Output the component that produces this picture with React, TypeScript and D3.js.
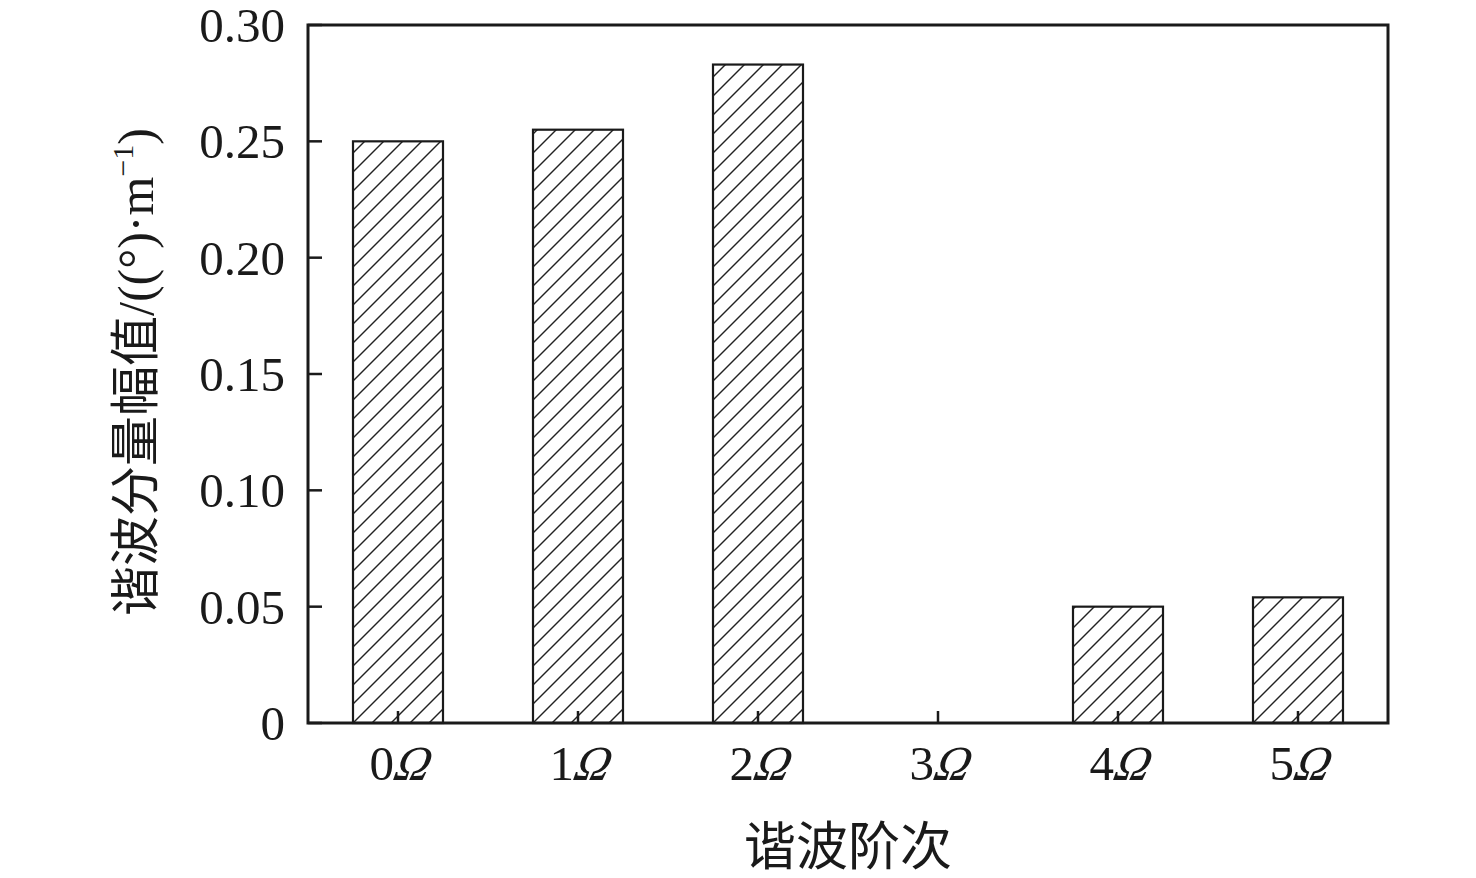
import React from "react";
import * as d3 from "d3";

const categories = ["0", "1", "2", "3", "4", "5"];
const values = [0.25, 0.255, 0.283, 0, 0.05, 0.054];
const yTicks = [0, 0.05, 0.1, 0.15, 0.2, 0.25, 0.3];
const yTickLabels = ["0", "0.05", "0.10", "0.15", "0.20", "0.25", "0.30"];

const W = 1476, H = 878;
const L = 308, R = 1388, T = 25, B = 723;
const serif = "'Liberation Serif', 'Times New Roman', serif";
const cjk = "'Liberation Serif', 'Noto Sans CJK SC', serif";
const HATCH = 19;

export default function App() {
  const x = d3.scaleBand<string>().domain(categories).range([L, R]).paddingInner(0.5).paddingOuter(0.25);
  const y = d3.scaleLinear().domain([0, 0.3]).range([B, T]);
  const bw = x.bandwidth();
  return (
    <svg width={W} height={H} style={{ position: "absolute", left: 0, top: 0, background: "#fff" }}>
      <defs>
        {values.map((v, i) => (
          <clipPath key={i} id={`clip${i}`}>
            <rect x={x(categories[i])!} y={y(v)} width={bw} height={B - y(v)} />
          </clipPath>
        ))}
      </defs>
      <rect x={0} y={0} width={W} height={H} fill="#fff" />
      {values.map((v, i) => {
        if (v <= 0) return null;
        const x0 = x(categories[i])!;
        const y0 = y(v);
        const h = B - y0;
        const lines = [];
        // lines of slope "/" : x + y = const, spaced HATCH horizontally
        for (let k = -Math.ceil(h / HATCH) - 1; k <= Math.ceil(bw / HATCH) + 1; k++) {
          const sx = x0 + k * HATCH;
          lines.push(<line key={k} x1={sx} y1={B} x2={sx + h + 2} y2={B - h - 2} stroke="#222" strokeWidth={1.4} />);
        }
        return (
          <g key={i}>
            <g clipPath={`url(#clip${i})`}>{lines}</g>
            <rect x={x0} y={y0} width={bw} height={h} fill="none" stroke="#1a1a1a" strokeWidth={2.2} />
          </g>
        );
      })}
      {categories.map((c) => {
        const cx = x(c)! + bw / 2;
        return (
          <g key={c}>
            <line x1={cx} x2={cx} y1={B} y2={B - 12} stroke="#1a1a1a" strokeWidth={2.5} />
            <text x={cx - 4} y={780} textAnchor="end" fontFamily={serif} fontSize={49} fill="#1a1a1a">{c}</text>
            <text transform={`translate(${cx - 6},780) skewX(-14)`} textAnchor="start" fontFamily={serif}
              fontStyle="italic" fontSize={49} fill="#1a1a1a">Ω</text>
          </g>
        );
      })}
      {yTicks.map((t, i) => (
        <g key={t}>
          <line x1={L} x2={L + 14} y1={y(t)} y2={y(t)} stroke="#1a1a1a" strokeWidth={2.5} />
          <text x={285} y={y(t)} dy="0.35em" textAnchor="end" fontFamily={serif} fontSize={49} fill="#1a1a1a">
            {yTickLabels[i]}
          </text>
        </g>
      ))}
      <rect x={L} y={T} width={R - L} height={B - T} fill="none" stroke="#1a1a1a" strokeWidth={3} />
      <text x={848} y={865} textAnchor="middle" fontFamily={cjk} fontSize={52} fill="#1a1a1a">谐波阶次</text>
      <text transform="translate(153,372) rotate(-90)" textAnchor="middle" fontFamily={cjk} fontSize={50} fill="#1a1a1a">
        谐波分量幅值/((°)·m<tspan fontSize={30} dy={-20}>−1</tspan><tspan dy={20}>)</tspan>
      </text>
    </svg>
  );
}
